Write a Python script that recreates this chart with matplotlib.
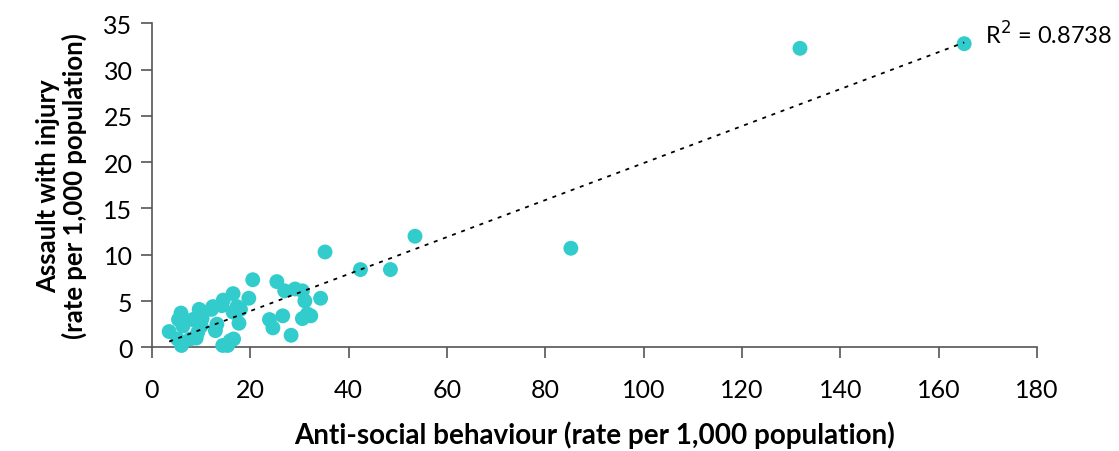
import numpy as np
import matplotlib
matplotlib.use("Agg")
import matplotlib.pyplot as plt
import matplotlib.ticker as mticker

# rates per 1,000 population, one point per area
asb_rate = [3.5, 5.9, 5.4, 6.3, 5.2, 6.0, 8.3, 9.6, 10.0, 7.8, 9.0, 9.3, 10.2,
            12.1, 12.4, 13.2, 12.9, 14.2, 14.5, 14.4, 15.4, 15.9, 16.6, 16.5,
            17.3, 16.5, 18.0, 17.7, 19.7, 20.5, 25.4, 23.9, 24.6, 26.6, 27.0,
            28.3, 29.1, 30.6, 31.1, 30.6, 31.6, 32.3, 34.3, 35.2, 42.4, 48.5,
            53.5, 85.2, 131.8, 165.2]
assault_rate = [1.7, 3.7, 3.0, 2.3, 0.9, 0.2, 3.0, 4.1, 2.3, 0.9, 1.0, 1.6, 3.1,
                4.1, 4.4, 2.5, 1.8, 4.5, 5.1, 0.2, 0.2, 0.7, 0.9, 5.8,
                4.4, 3.8, 4.1, 2.6, 5.3, 7.3, 7.1, 3.0, 2.1, 3.4, 6.1,
                1.3, 6.3, 6.1, 5.0, 3.1, 3.6, 3.4, 5.3, 10.3, 8.4, 8.4,
                12.0, 10.7, 32.3, 32.8]
r2_label = "0.8738"

x_ticks = [0, 20, 40, 60, 80, 100, 120, 140, 160, 180]
y_ticks = [0, 5, 10, 15, 20, 25, 30, 35]

plt.rcParams["font.family"] = ["Lato", "DejaVu Sans"]

fig = plt.figure(figsize=(11.19, 4.52), dpi=100)
ax = fig.add_axes([0.1358, 0.2294, 0.7909, 0.7168])

ax.scatter(asb_rate, assault_rate, s=115, color="#33CCCC", edgecolors="none",
           zorder=3, clip_on=False)

# linear trend line across the data range
slope, intercept = np.polyfit(asb_rate, assault_rate, 1)
xs = np.array([min(asb_rate), max(asb_rate)])
ax.plot(xs, slope * xs + intercept, color="black", linewidth=1.3,
        linestyle=(0, (2.2, 3.2)), zorder=4)

ax.text(max(asb_rate) + 4.3, slope * max(asb_rate) + intercept + 0.9,
        "R$^2$ = " + r2_label, fontsize=17, va="center", ha="left")

ax.set_xlim(0, 180)
ax.set_ylim(0, 35)
ax.xaxis.set_major_locator(mticker.FixedLocator(x_ticks))
ax.yaxis.set_major_locator(mticker.FixedLocator(y_ticks))
ax.tick_params(axis="both", direction="out", length=8, width=1.2,
               color="#555555", labelsize=18, pad=14)
ax.tick_params(axis="y", pad=6)
for side in ("top", "right"):
    ax.spines[side].set_visible(False)
for side in ("left", "bottom"):
    ax.spines[side].set_color("#555555")
    ax.spines[side].set_linewidth(1.2)

ax.set_xlabel("Anti-social behaviour (rate per 1,000 population)",
              fontsize=20, fontweight="bold", labelpad=14)
ax.set_ylabel("Assault with injury\n(rate per 1,000 population)",
              fontsize=18.5, fontweight="bold", labelpad=12, linespacing=1.05)

fig.savefig("out.png", dpi=100, facecolor="white")
